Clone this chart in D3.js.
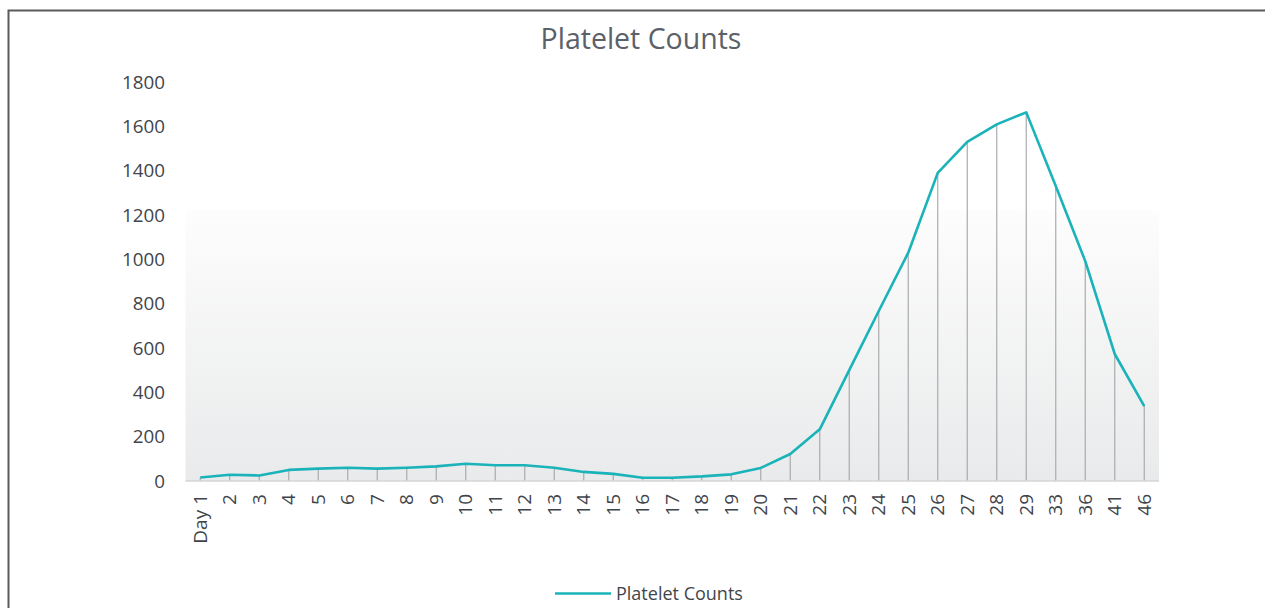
<!DOCTYPE html>
<html>
<head>
<meta charset="utf-8">
<script src="https://cdn.jsdelivr.net/npm/d3@7"></script>
<style>
  html, body { margin: 0; padding: 0; background: #fff; }
  svg { display: block; }
  text { font-family: "Open Sans", "Noto Sans", sans-serif; }
</style>
</head>
<body>
<div id="app"></div>
<script>
// Data
const days = ["Day 1", "2", "3", "4", "5", "6", "7", "8", "9", "10", "11", "12", "13", "14", "15",
  "16", "17", "18", "19", "20", "21", "22", "23", "24", "25", "26", "27", "28", "29", "33", "36", "41", "46"];
const counts = [16, 28, 25, 50, 56, 60, 56, 60, 66, 78, 71, 71, 60, 41, 32,
  15, 15, 21, 30, 59, 122, 233, 500, 767, 1030, 1390, 1530, 1609, 1663, 1331, 992, 573, 338];
const yTicks = [0, 200, 400, 600, 800, 1000, 1200, 1400, 1600, 1800];

const width = 1265, height = 608;
const plotLeft = 185.5, plotRight = 1159, plotTop = 82, plotBottom = 481;

const svg = d3.select("#app").append("svg")
  .attr("width", width)
  .attr("height", height);

// Chart frame
svg.append("rect")
  .attr("x", 8.5).attr("y", 10.5)
  .attr("width", width + 10).attr("height", height + 10)
  .attr("fill", "none")
  .attr("stroke", "#5a5a5a")
  .attr("stroke-width", 2);

const x = d3.scalePoint().domain(days).range([plotLeft, plotRight]).padding(0.5);
const y = d3.scaleLinear().domain([0, 1800]).range([plotBottom, plotTop]);

// Plot background gradient
const grad = svg.append("defs").append("linearGradient")
  .attr("id", "bg").attr("x1", 0).attr("y1", 0).attr("x2", 0).attr("y2", 1);
grad.append("stop").attr("offset", "0%").attr("stop-color", "#fdfdfd");
grad.append("stop").attr("offset", "100%").attr("stop-color", "#e9eaeb");

svg.append("rect")
  .attr("x", plotLeft).attr("y", y(1220))
  .attr("width", plotRight - plotLeft).attr("height", plotBottom - y(1220))
  .attr("fill", "url(#bg)");

// Title
svg.append("text")
  .attr("x", 641).attr("y", 49)
  .attr("text-anchor", "middle")
  .attr("font-size", 28.5)
  .attr("fill", "#5b6168")
  .text("Platelet Counts");

// Y axis labels
svg.append("g")
  .selectAll("text")
  .data(yTicks)
  .join("text")
  .attr("x", 165)
  .attr("y", d => y(d))
  .attr("dy", "0.35em")
  .attr("text-anchor", "end")
  .attr("font-size", 18.8)
  .attr("fill", "#3f454b")
  .text(d => d);

// Drop lines
svg.append("g")
  .selectAll("line")
  .data(days)
  .join("line")
  .attr("x1", d => x(d)).attr("x2", d => x(d))
  .attr("y1", plotBottom)
  .attr("y2", (d, i) => y(counts[i]))
  .attr("stroke", "#a9abae")
  .attr("stroke-width", 1.2);

// Baseline
svg.append("line")
  .attr("x1", plotLeft).attr("x2", plotRight)
  .attr("y1", plotBottom).attr("y2", plotBottom)
  .attr("stroke", "#d4d5d7")
  .attr("stroke-width", 1.5);

// X axis labels (rotated)
svg.append("g")
  .selectAll("text")
  .data(days)
  .join("text")
  .attr("transform", d => `translate(${x(d)},${plotBottom + 13}) rotate(-90)`)
  .attr("dy", "0.35em")
  .attr("text-anchor", "end")
  .attr("font-size", 19)
  .attr("fill", "#3f454b")
  .text(d => d);

// Series line
const line = d3.line()
  .x((d, i) => x(days[i]))
  .y(d => y(d));

svg.append("path")
  .datum(counts)
  .attr("fill", "none")
  .attr("stroke", "#19b3b9")
  .attr("stroke-width", 2.6)
  .attr("stroke-linejoin", "round")
  .attr("d", line);

// Legend
svg.append("line")
  .attr("x1", 555).attr("x2", 611)
  .attr("y1", 593.5).attr("y2", 593.5)
  .attr("stroke", "#19b3b9")
  .attr("stroke-width", 2.6);

svg.append("text")
  .attr("x", 616).attr("y", 594)
  .attr("dy", "0.35em")
  .attr("font-size", 18)
  .attr("fill", "#3f454b")
  .text("Platelet Counts");
</script>
</body>
</html>
